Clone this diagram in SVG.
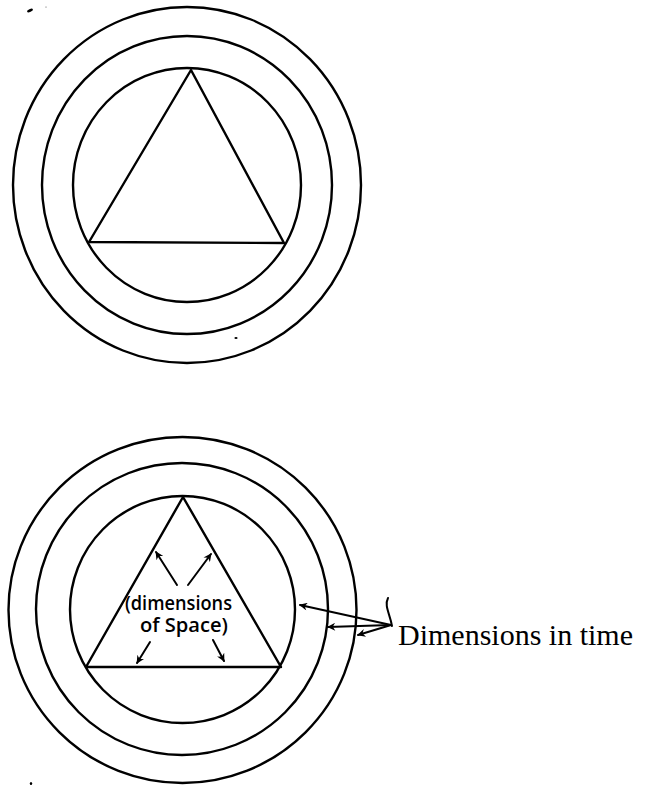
<svg xmlns="http://www.w3.org/2000/svg" width="652" height="786" viewBox="0 0 652 786">
<style>
.ln{fill:none;stroke:#000;stroke-width:2.4;stroke-linecap:round;stroke-linejoin:round}
.ar{fill:none;stroke:#000;stroke-width:2;stroke-linecap:round}
.hand{font-family:"Open Sans","DejaVu Sans",sans-serif;font-size:19px;font-weight:600;fill:#000}
.lbl{font-family:"Liberation Serif","Times New Roman",serif;font-size:30px;fill:#000}
</style>
<defs>
<marker id="ah" viewBox="0 0 10 10" refX="9" refY="5" markerWidth="10" markerHeight="8" markerUnits="userSpaceOnUse" orient="auto">
<path d="M0,0 L10,5 L0,10 L3,5 Z" fill="#000"/>
</marker>
</defs>
<rect width="652" height="786" fill="#fff"/>
<g id="specks" fill="#000">
<ellipse cx="30" cy="10.5" rx="3.2" ry="1.5" transform="rotate(-25 30 10.5)"/>
<ellipse cx="46" cy="7" rx="1" ry="0.5" fill="#999"/>
<ellipse cx="236" cy="338" rx="1.6" ry="1"/>
<ellipse cx="31" cy="783.5" rx="1.2" ry="1.5"/>
</g>
<g id="top-figure">
<ellipse class="ln" cx="187" cy="185" rx="174" ry="178"/>
<ellipse class="ln" cx="187" cy="185" rx="145" ry="149"/>
<ellipse class="ln" cx="187" cy="185" rx="114" ry="117"/>
<polygon class="ln" points="191,70 89,242 284,243"/>
</g>
<g id="bottom-figure">
<ellipse class="ln" cx="182.5" cy="610" rx="174" ry="173"/>
<ellipse class="ln" cx="182" cy="609" rx="146" ry="146"/>
<ellipse class="ln" cx="182.5" cy="609.5" rx="112.5" ry="113.5"/>
<polygon class="ln" points="183,497 86,667 281,667"/>
<text class="hand" x="125" y="610" textLength="107" lengthAdjust="spacingAndGlyphs">(dimensions</text>
<text class="hand" x="140" y="632" textLength="88" lengthAdjust="spacingAndGlyphs">of Space)</text>
</g>
<g id="connectors">
<line class="ar" x1="177" y1="585" x2="156" y2="552" marker-end="url(#ah)"/>
<line class="ar" x1="188" y1="585" x2="211" y2="554" marker-end="url(#ah)"/>
<line class="ar" x1="150" y1="642" x2="137" y2="663" marker-end="url(#ah)"/>
<line class="ar" x1="213" y1="640" x2="224" y2="661" marker-end="url(#ah)"/>
<line class="ar" x1="391" y1="625" x2="300" y2="605" marker-end="url(#ah)"/>
<line class="ar" x1="391" y1="625" x2="328" y2="627" marker-end="url(#ah)"/>
<line class="ar" x1="391" y1="625" x2="358" y2="635" marker-end="url(#ah)"/>
<path class="ar" d="M388,598 C384,606 390,614 392,626"/>
</g>
<g id="time-label">
<text class="lbl" x="398" y="645">Dimensions in time</text>
</g>
</svg>
